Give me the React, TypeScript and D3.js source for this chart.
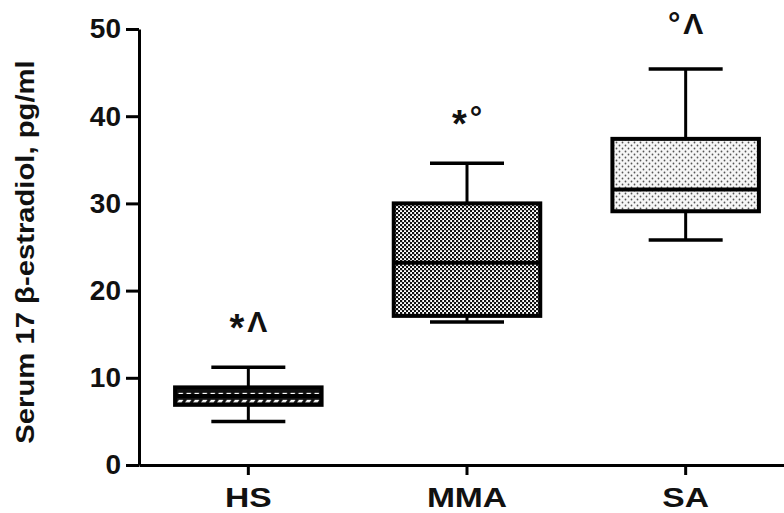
import React, { useEffect, useRef } from 'react';
import * as d3 from 'd3';

// groups and their box-plot stats (whisker low, q1, median, q3, whisker high)
const groups = ['HS', 'MMA', 'SA'];
const whiskerLow = [5.0, 16.4, 25.8];
const q1 = [6.9, 17.1, 29.1];
const median = [7.9, 23.2, 31.6];
const q3 = [8.9, 30.0, 37.4];
const whiskerHigh = [11.2, 34.6, 45.4];
// significance symbols above each group: [first, second]
const marks = [['*', 'Λ'], ['*', '°'], ['°', 'Λ']];
const yTicks = [0, 10, 20, 30, 40, 50];

const W = 784, H = 513;
const font = '"Liberation Sans", Arial, sans-serif';

export default function App() {
  const ref = useRef<SVGSVGElement>(null);

  useEffect(() => {
    const svg = d3.select(ref.current);
    svg.selectAll('*').remove();

    const x = d3.scaleBand().domain(groups).range([139, 795]).paddingInner(0).paddingOuter(0);
    const y = d3.scaleLinear().domain([0, 50]).range([465, 29]);

    const defs = svg.append('defs');
    // HS: black with rows of white slanted dashes
    const p0 = defs.append('pattern').attr('id', 'pat0').attr('patternUnits', 'userSpaceOnUse')
      .attr('width', 8).attr('height', 7).attr('y', y(q1[0]));
    p0.append('rect').attr('width', 8).attr('height', 7).attr('fill', '#111');
    p0.append('path').attr('d', 'M1,4.5 L3,2 L7.5,2 L5.5,4.5 Z').attr('fill', '#fff');
    // MMA: dense checker dots
    const p1 = defs.append('pattern').attr('id', 'pat1').attr('patternUnits', 'userSpaceOnUse')
      .attr('width', 4).attr('height', 4);
    p1.append('rect').attr('width', 4).attr('height', 4).attr('fill', '#fff');
    p1.append('rect').attr('x', 0).attr('y', 0).attr('width', 2.2).attr('height', 2.2).attr('fill', '#111');
    p1.append('rect').attr('x', 2).attr('y', 2).attr('width', 2.2).attr('height', 2.2).attr('fill', '#111');
    // SA: sparse small dots
    const p2 = defs.append('pattern').attr('id', 'pat2').attr('patternUnits', 'userSpaceOnUse')
      .attr('width', 6).attr('height', 6);
    p2.append('rect').attr('width', 6).attr('height', 6).attr('fill', '#f6f6f6');
    p2.append('circle').attr('cx', 1.5).attr('cy', 1.5).attr('r', 0.9).attr('fill', '#555');
    p2.append('circle').attr('cx', 4.5).attr('cy', 4.5).attr('r', 0.9).attr('fill', '#555');

    const boxW = x.bandwidth() * 0.67;
    const capW = 74;

    const g = svg.selectAll('g.box').data(groups).enter().append('g').attr('class', 'box');
    const cx = (d: string) => (x(d) as number) + x.bandwidth() / 2;

    // whiskers
    g.append('line')
      .attr('x1', cx).attr('x2', cx)
      .attr('y1', (d, i) => y(whiskerLow[i])).attr('y2', (d, i) => y(whiskerHigh[i]))
      .attr('stroke', '#000').attr('stroke-width', 3);
    for (const arr of [whiskerLow, whiskerHigh]) {
      g.append('line')
        .attr('x1', d => cx(d) - capW / 2).attr('x2', d => cx(d) + capW / 2)
        .attr('y1', (d, i) => y(arr[i])).attr('y2', (d, i) => y(arr[i]))
        .attr('stroke', '#000').attr('stroke-width', 3.5);
    }
    // boxes
    g.append('rect')
      .attr('x', d => cx(d) - boxW / 2).attr('width', boxW)
      .attr('y', (d, i) => y(q3[i])).attr('height', (d, i) => y(q1[i]) - y(q3[i]))
      .attr('fill', (d, i) => `url(#pat${i})`)
      .attr('stroke', '#000').attr('stroke-width', 4);
    g.append('line')
      .attr('x1', d => cx(d) - boxW / 2).attr('x2', d => cx(d) + boxW / 2)
      .attr('y1', (d, i) => y(median[i])).attr('y2', (d, i) => y(median[i]))
      .attr('stroke', '#000').attr('stroke-width', 4);
    // significance marks: '*' is drawn larger and lowered so it sits mid-height
    const mt = g.append('text')
      .attr('x', cx).attr('y', (d, i) => y(whiskerHigh[i]) - 35)
      .attr('text-anchor', 'middle')
      .attr('font-family', font).attr('font-weight', 'bold').attr('font-size', 30)
      .attr('fill', '#111');
    mt.each(function (d, i) {
      const t = d3.select(this);
      marks[i].forEach((s, k) => {
        const ts = t.append('tspan').text(s);
        if (s === '*') ts.attr('font-size', 38).attr('dy', 9).attr('dx', k ? 4 : 0);
        else if (s === '°') ts.attr('font-size', 31).attr('dy', marks[i][0] === '*' ? -9 : 0).attr('dx', k ? 3 : 0);
        else ts.attr('dy', marks[i][0] === '*' ? -9 : 0).attr('dx', 3);
      });
    });

    // y axis
    const ya = svg.append('g').attr('transform', 'translate(139,0)')
      .call(d3.axisLeft(y).tickValues(yTicks).tickSize(13).tickPadding(5).tickSizeOuter(0));
    ya.select('.domain').attr('stroke-width', 3);
    ya.selectAll('line').attr('stroke-width', 3);
    ya.selectAll('text').attr('font-family', font).attr('font-weight', 'bold')
      .attr('font-size', 28).attr('fill', '#111');

    // x axis
    const xa = svg.append('g').attr('transform', 'translate(0,465)')
      .call(d3.axisBottom(x).tickSize(10).tickPadding(12).tickSizeOuter(0));
    xa.select('.domain').attr('stroke-width', 3);
    xa.selectAll('line').attr('stroke-width', 3);
    xa.selectAll('text').attr('font-family', font).attr('font-weight', 'bold')
      .attr('font-size', 28).attr('fill', '#111').attr('transform', 'scale(1.2,1)');

    svg.append('text')
      .attr('transform', 'translate(34,252) rotate(-90) scale(1.17,1)')
      .attr('text-anchor', 'middle')
      .attr('font-family', font).attr('font-weight', 'bold').attr('font-size', 25)
      .attr('fill', '#111')
      .text('Serum 17 β-estradiol, pg/ml');
  }, []);

  return (
    <div style={{ position: 'absolute', left: 0, top: 0 }}>
      <svg ref={ref} width={W} height={H} style={{ display: 'block', background: '#fff' }} />
    </div>
  );
}
